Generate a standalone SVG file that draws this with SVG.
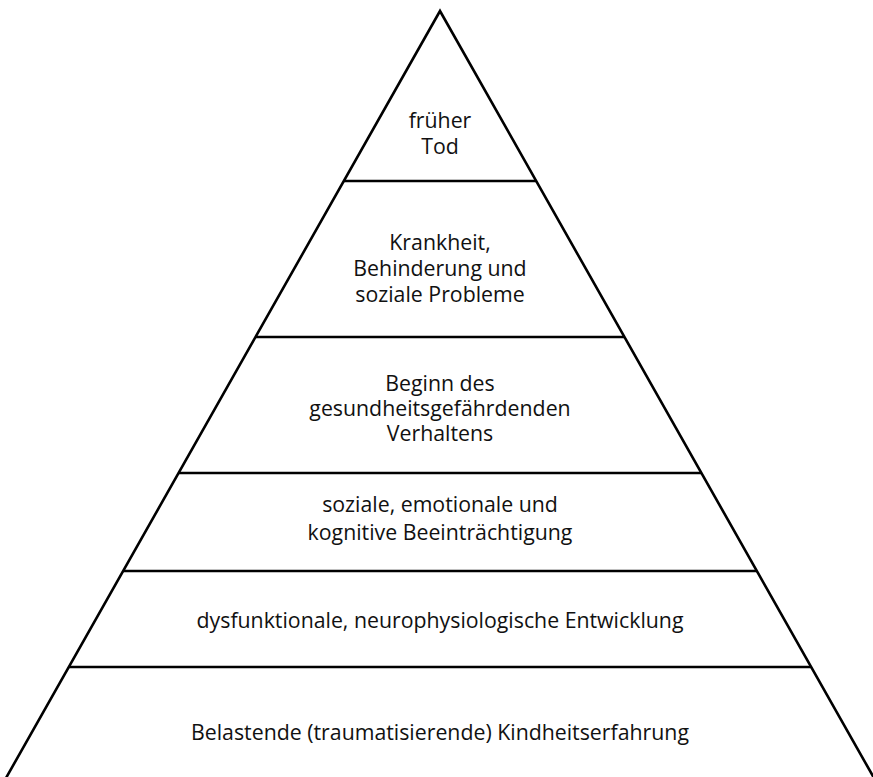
<svg xmlns="http://www.w3.org/2000/svg" width="873" height="777" viewBox="0 0 873 777">
  <style>
    .edge { fill: none; stroke: #000; stroke-width: 2.6; stroke-linejoin: miter; }
    .tier { stroke: #000; stroke-width: 2.6; }
    text { font-family: "Open Sans", "Noto Sans", "Liberation Sans", sans-serif; font-size: 21.3px; fill: #111; text-anchor: middle; }
  </style>
  <rect width="873" height="777" fill="#fff"/>

  <!-- pyramid sides -->
  <polyline class="edge" points="6,778 440,11 874,778"/>

  <!-- tier dividers, spanning edge to edge -->
  <g id="dividers">
    <line class="tier" x1="343.9" y1="181" x2="536.1" y2="181"/>
    <line class="tier" x1="255.7" y1="337" x2="624.3" y2="337"/>
    <line class="tier" x1="178.8" y1="473" x2="701.2" y2="473"/>
    <line class="tier" x1="123.4" y1="571" x2="756.6" y2="571"/>
    <line class="tier" x1="69.1" y1="667" x2="810.9" y2="667"/>
  </g>

  <g id="tier-tod">
    <text x="440" y="128">früher</text>
    <text x="440" y="154">Tod</text>
  </g>
  <g id="tier-krankheit">
    <text x="440" y="250">Krankheit,</text>
    <text x="440" y="276">Behinderung und</text>
    <text x="440" y="302">soziale Probleme</text>
  </g>
  <g id="tier-verhalten">
    <text x="440" y="391">Beginn des</text>
    <text x="440" y="416">gesundheitsgefährdenden</text>
    <text x="440" y="441">Verhaltens</text>
  </g>
  <g id="tier-beeintraechtigung">
    <text x="440" y="512">soziale, emotionale und</text>
    <text x="440" y="540">kognitive Beeinträchtigung</text>
  </g>
  <g id="tier-entwicklung">
    <text x="440" y="628">dysfunktionale, neurophysiologische Entwicklung</text>
  </g>
  <g id="tier-erfahrung">
    <text x="440" y="740">Belastende (traumatisierende) Kindheitserfahrung</text>
  </g>
</svg>
